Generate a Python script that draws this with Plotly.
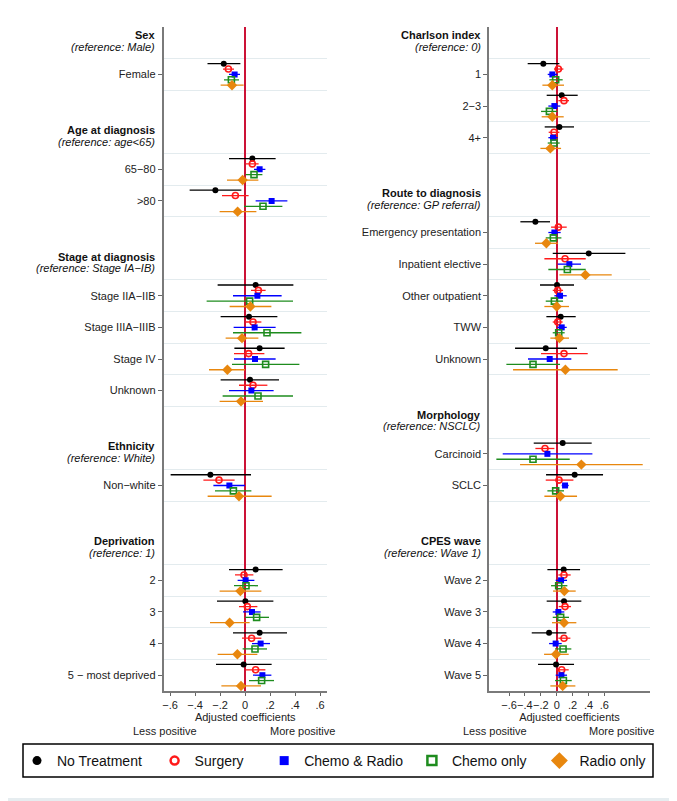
import plotly.graph_objects as go

FONT = "Liberation Sans, Arial, sans-serif"

# ---------------- structure ----------------
series_names = ["No Treatment", "Surgery", "Chemo & Radio", "Chemo only", "Radio only"]

left_groups = [
    ("Sex", "(reference: Male)", ["Female"]),
    ("Age at diagnosis", "(reference: age<65)", ["65−80", ">80"]),
    ("Stage at diagnosis", "(reference: Stage IA−IB)", ["Stage IIA−IIB", "Stage IIIA−IIIB", "Stage IV", "Unknown"]),
    ("Ethnicity", "(reference: White)", ["Non−white"]),
    ("Deprivation", "(reference: 1)", ["2", "3", "4", "5 − most deprived"]),
]
right_groups = [
    ("Charlson index", "(reference: 0)", ["1", "2−3", "4+"]),
    ("Route to diagnosis", "(reference: GP referral)", ["Emergency presentation", "Inpatient elective", "Other outpatient", "TWW", "Unknown"]),
    ("Morphology", "(reference: NSCLC)", ["Carcinoid", "SCLC"]),
    ("CPES wave", "(reference: Wave 1)", ["Wave 2", "Wave 3", "Wave 4", "Wave 5"]),
]

x_tickvals = [-0.6, -0.4, -0.2, 0, 0.2, 0.4, 0.6]
x_ticktext = ["−.6", "−.4", "−.2", "0", ".2", ".4", ".6"]

# ---------------- left panel data ----------------
left_no_treatment_coef = [-0.170, 0.059, -0.237, 0.085, 0.032, 0.117, 0.040, -0.277, 0.085, 0.003, 0.117, -0.011]
left_no_treatment_lo = [-0.300, -0.128, -0.443, -0.219, -0.195, -0.085, -0.195, -0.595, -0.128, -0.224, -0.096, -0.232]
left_no_treatment_hi = [-0.037, 0.245, -0.029, 0.387, 0.259, 0.317, 0.272, 0.048, 0.301, 0.227, 0.336, 0.213]

left_surgery_coef = [-0.133, 0.059, -0.077, 0.107, 0.064, 0.029, 0.064, -0.208, -0.008, 0.019, 0.053, 0.085]
left_surgery_lo = [-0.176, 0.005, -0.184, 0.048, 0.005, -0.088, -0.048, -0.333, -0.080, -0.048, -0.024, 0.005]
left_surgery_hi = [-0.088, 0.109, 0.029, 0.165, 0.131, 0.155, 0.179, -0.083, 0.067, 0.099, 0.131, 0.163]

left_chemo_radio_coef = [-0.083, 0.117, 0.213, 0.099, 0.077, 0.080, 0.051, -0.125, 0.005, 0.056, 0.125, 0.139]
left_chemo_radio_lo = [-0.128, 0.072, 0.085, -0.096, -0.091, -0.088, -0.128, -0.253, -0.059, -0.016, 0.056, 0.064]
left_chemo_radio_hi = [-0.040, 0.163, 0.339, 0.293, 0.245, 0.245, 0.229, 0.000, 0.075, 0.125, 0.200, 0.211]

left_chemo_only_coef = [-0.109, 0.072, 0.144, 0.037, 0.176, 0.165, 0.104, -0.093, 0.008, 0.093, 0.080, 0.133]
left_chemo_only_lo = [-0.168, 0.005, -0.008, -0.307, -0.096, -0.104, -0.179, -0.240, -0.088, 0.000, -0.019, 0.032]
left_chemo_only_hi = [-0.048, 0.139, 0.299, 0.384, 0.451, 0.435, 0.384, 0.051, 0.104, 0.192, 0.176, 0.232]

left_radio_only_coef = [-0.104, -0.019, -0.059, 0.043, -0.024, -0.141, -0.032, -0.048, -0.037, -0.123, -0.061, -0.032]
left_radio_only_lo = [-0.195, -0.144, -0.203, -0.123, -0.155, -0.288, -0.203, -0.299, -0.203, -0.280, -0.219, -0.189]
left_radio_only_hi = [-0.011, 0.107, 0.091, 0.211, 0.107, 0.000, 0.144, 0.213, 0.131, 0.037, 0.099, 0.128]

# ---------------- right panel data ----------------
right_no_treatment_coef = [-0.168, 0.063, 0.034, -0.268, 0.403, 0.004, 0.050, -0.138, 0.075, 0.226, 0.088, 0.092, -0.096, -0.008]
right_no_treatment_lo = [-0.365, -0.126, -0.151, -0.457, -0.050, -0.210, -0.130, -0.524, -0.289, -0.134, -0.117, -0.126, -0.314, -0.235]
right_no_treatment_hi = [0.034, 0.264, 0.218, -0.084, 0.864, 0.218, 0.239, 0.256, 0.440, 0.583, 0.294, 0.310, 0.122, 0.218]

right_surgery_coef = [0.021, 0.092, -0.034, 0.021, 0.105, 0.013, 0.013, 0.092, -0.147, 0.029, 0.092, 0.105, 0.092, 0.063]
right_surgery_lo = [-0.034, 0.021, -0.101, -0.071, -0.155, -0.050, -0.050, -0.197, -0.268, -0.138, 0.021, 0.025, 0.021, -0.008]
right_surgery_hi = [0.084, 0.155, 0.034, 0.126, 0.365, 0.080, 0.075, 0.390, -0.029, 0.210, 0.176, 0.180, 0.172, 0.151]

right_chemo_radio_coef = [-0.055, -0.029, -0.046, -0.029, 0.159, 0.042, 0.063, -0.088, -0.117, 0.105, 0.055, 0.021, -0.013, 0.059]
right_chemo_radio_lo = [-0.113, -0.105, -0.105, -0.105, 0.013, -0.029, 0.008, -0.361, -0.679, 0.063, -0.013, -0.050, -0.096, -0.013]
right_chemo_radio_hi = [0.008, 0.046, 0.013, 0.050, 0.306, 0.126, 0.126, 0.184, 0.449, 0.151, 0.130, 0.096, 0.063, 0.130]

right_chemo_only_coef = [-0.013, -0.092, -0.034, -0.042, 0.134, -0.029, 0.025, -0.298, -0.298, -0.013, 0.025, 0.050, 0.080, 0.084]
right_chemo_only_lo = [-0.092, -0.197, -0.113, -0.138, -0.105, -0.138, -0.050, -0.633, -0.759, -0.117, -0.071, -0.050, -0.021, -0.021]
right_chemo_only_hi = [0.075, 0.008, 0.038, 0.059, 0.365, 0.080, 0.100, 0.042, 0.164, 0.092, 0.134, 0.155, 0.184, 0.189]

right_radio_only_coef = [-0.055, -0.055, -0.080, -0.130, 0.361, 0.000, 0.034, 0.109, 0.310, 0.046, 0.096, 0.092, -0.008, 0.075]
right_radio_only_lo = [-0.180, -0.189, -0.205, -0.273, 0.034, -0.155, -0.080, -0.549, -0.461, -0.155, -0.046, -0.059, -0.159, -0.080]
right_radio_only_hi = [0.092, 0.088, 0.055, 0.017, 0.692, 0.155, 0.155, 0.767, 1.082, 0.256, 0.239, 0.247, 0.151, 0.235]

left_data = [
    (left_no_treatment_coef, left_no_treatment_lo, left_no_treatment_hi),
    (left_surgery_coef, left_surgery_lo, left_surgery_hi),
    (left_chemo_radio_coef, left_chemo_radio_lo, left_chemo_radio_hi),
    (left_chemo_only_coef, left_chemo_only_lo, left_chemo_only_hi),
    (left_radio_only_coef, left_radio_only_lo, left_radio_only_hi),
]
right_data = [
    (right_no_treatment_coef, right_no_treatment_lo, right_no_treatment_hi),
    (right_surgery_coef, right_surgery_lo, right_surgery_hi),
    (right_chemo_radio_coef, right_chemo_radio_lo, right_chemo_radio_hi),
    (right_chemo_only_coef, right_chemo_only_lo, right_chemo_only_hi),
    (right_radio_only_coef, right_radio_only_lo, right_radio_only_hi),
]

# ---------------- styles / geometry ----------------
OFF = 8                      # page body margin offset
W, H = 677 - OFF, 801 - OFF


def sx(px):
    return (px - OFF) / W


def sy(py):
    return 1 - (py - OFF) / H


colors = ["#000000", "#ff1a1a", "#0000ff", "#1e8c1e", "#e8870e"]
symbols = ["circle", "circle-open", "square", "square-open", "diamond"]
msizes = [6, 6, 6, 6, 8]
legend_sizes = [9, 8, 9, 9, 13]
legend_pad = [2, 4, 1, 2, 0]   # trailing spacing after legend names
offsets = [-0.34, -0.17, 0.0, 0.17, 0.34]

L_DOM = [sx(163.5), sx(327)]
R_DOM = [sx(489), sx(650)]
Y_DOM = [sy(691), sy(27)]
L_RANGE = [(163.5 - 245) / 125, (327 - 245) / 125]
R_RANGE = [(489 - 556.7) / 79.5, (650 - 556.7) / 79.5]
Y_RANGE = [19.5, -1.5]


def layout_rows(groups):
    headers, labels, pos = [], [], []
    p = -1
    for title, ref, items in groups:
        headers.append((title, ref, p))
        for i, it in enumerate(items):
            labels.append(it)
            pos.append(p + 1 + i)
        p += len(items) + 2
    return headers, labels, pos


fig = go.Figure()
annotations = []
shapes = []

panels = [
    (left_groups, left_data, "x", "y", L_DOM),
    (right_groups, right_data, "x2", "y2", R_DOM),
]

axis_cfg = {}
for pi, (groups, data, xa, ya, dom) in enumerate(panels):
    headers, labels, pos = layout_rows(groups)
    for si, (coef, lo, hi) in enumerate(data):
        fig.add_trace(go.Scatter(
            x=coef,
            y=[p + offsets[si] for p in pos],
            xaxis=xa, yaxis=ya,
            mode="markers",
            marker=dict(symbol=symbols[si], size=msizes[si], color=colors[si],
                        line=dict(width=1.6 if "open" in symbols[si] else 0, color=colors[si])),
            error_x=dict(type="data", symmetric=False,
                         array=[h - c for c, h in zip(coef, hi)],
                         arrayminus=[c - l for c, l in zip(coef, lo)],
                         width=0, thickness=1.3, color=colors[si]),
            showlegend=False, hoverinfo="skip",
        ))
    grid = sorted(set([p - 0.5 for p in pos] + [p + 0.5 for p in pos]))
    axis_cfg[ya] = dict(tickvals=pos, ticktext=labels, grid=grid)
    # group headers
    xh = dom[0] - 6.5 / W
    for title, ref, p in headers:
        annotations.append(dict(xref="paper", yref=ya, x=xh, y=p, yshift=7.5,
                                text="<b>%s</b>" % title, showarrow=False,
                                xanchor="right", yanchor="middle",
                                font=dict(family=FONT, size=11, color="#111")))
        annotations.append(dict(xref="paper", yref=ya, x=xh, y=p, yshift=-4,
                                text="<i>%s</i>" % ref, showarrow=False,
                                xanchor="right", yanchor="middle",
                                font=dict(family=FONT, size=11, color="#111")))

# legend-only traces
for si, name in enumerate(series_names):
    fig.add_trace(go.Scatter(
        x=[None], y=[None], mode="markers", name=name + "\u00a0" * legend_pad[si],
        marker=dict(symbol=symbols[si], size=legend_sizes[si], color=colors[si],
                    line=dict(width=2.5 if "open" in symbols[si] else 0, color=colors[si])),
        showlegend=True,
    ))


def xaxis(dom, rng, anchor):
    return dict(domain=dom, range=rng, anchor=anchor,
                tickvals=x_tickvals, ticktext=x_ticktext, tickangle=0,
                ticks="outside", ticklen=3, tickcolor="#666", tickwidth=1,
                tickfont=dict(family=FONT, size=11, color="#222"),
                showgrid=False, showline=True, linecolor="#7a7a7a", linewidth=1.5,
                zeroline=True, zerolinecolor="#cc1236", zerolinewidth=1.5,
                title=dict(text="Adjusted coefficients", standoff=0,
                           font=dict(family=FONT, size=11, color="#222")))


def yaxis(cfg, anchor):
    return dict(domain=Y_DOM, range=Y_RANGE, anchor=anchor,
                tickvals=cfg["tickvals"], ticktext=cfg["ticktext"],
                ticks="outside", ticklen=4, tickcolor="#666", tickwidth=1,
                tickfont=dict(family=FONT, size=11, color="#222"),
                showgrid=False, showline=True, linecolor="#7a7a7a", linewidth=1.5,
                zeroline=False,
                minor=dict(tickvals=cfg["grid"], showgrid=True, gridcolor="#e3ebee",
                           gridwidth=1, ticks=""))


# less / more positive
for xc, txt in [(165, "Less positive"), (302, "More positive"),
                (495, "Less positive"), (621, "More positive")]:
    annotations.append(dict(xref="paper", yref="paper", x=sx(xc), y=sy(731),
                            text=txt, showarrow=False, xanchor="center", yanchor="middle",
                            font=dict(family=FONT, size=11, color="#222")))

# legend box and light outer frame (right / bottom)
shapes.append(dict(type="rect", xref="paper", yref="paper",
                   x0=sx(23), x1=sx(653), y0=sy(777), y1=sy(744),
                   line=dict(color="black", width=1.5), fillcolor="rgba(0,0,0,0)"))
shapes.append(dict(type="line", xref="paper", yref="paper",
                   x0=sx(675.5), x1=sx(675.5), y0=0, y1=1,
                   line=dict(color="#e6edf0", width=3)))
shapes.append(dict(type="line", xref="paper", yref="paper",
                   x0=0, x1=1, y0=sy(799.5), y1=sy(799.5),
                   line=dict(color="#e6edf0", width=3)))

fig.update_layout(
    width=W, height=H, autosize=False,
    margin=dict(l=0, r=0, t=0, b=0),
    paper_bgcolor="white", plot_bgcolor="rgba(0,0,0,0)",
    font=dict(family=FONT, size=11, color="#222"),
    xaxis=xaxis(L_DOM, L_RANGE, "y"),
    yaxis=yaxis(axis_cfg["y"], "x"),
    xaxis2=xaxis(R_DOM, R_RANGE, "y2"),
    yaxis2=yaxis(axis_cfg["y2"], "x2"),
    annotations=annotations,
    shapes=shapes,
    legend=dict(orientation="h", x=sx(17), y=sy(761), xanchor="left", yanchor="middle",
                font=dict(family=FONT, size=14, color="#111"),
                bgcolor="rgba(0,0,0,0)", borderwidth=0, traceorder="normal"),
    showlegend=True,
)

fig.write_html("out.html")
